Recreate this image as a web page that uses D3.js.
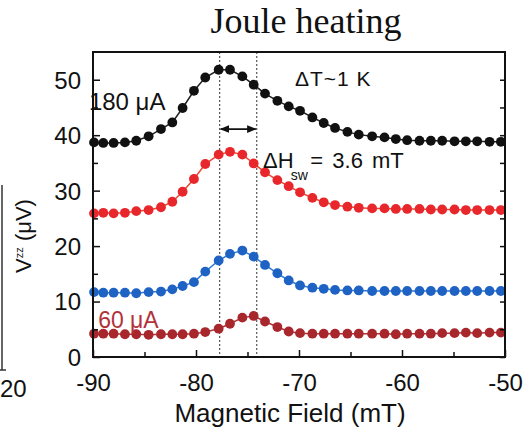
<!DOCTYPE html>
<html>
<head>
<meta charset="utf-8">
<script src="https://cdn.jsdelivr.net/npm/d3@7"></script>
<style>
  html, body { margin: 0; padding: 0; background: #fff; }
  svg { display: block; font-family: "Liberation Sans", Arial, sans-serif; }
  .tick text { font-family: "Liberation Sans", Arial, sans-serif; font-size: 24px; fill: #111; }
  .tick line { stroke: #111; stroke-width: 1.5; }
  .domain { display: none; }
</style>
</head>
<body>
<svg id="chart" width="532" height="435"></svg>
<script>
// Joule heating: V^zz vs magnetic field for several currents
const fieldMT = [-89.9, -89.0, -88.0, -86.9, -85.8, -84.6, -83.4, -82.3, -81.3, -80.2,
    -79.1, -77.8, -76.7, -75.5, -74.4, -73.3, -72.1, -71.0, -69.9, -68.7,
    -67.6, -66.5, -65.3, -64.2, -62.9, -61.7, -60.6, -59.5, -58.3, -57.2,
    -56.1, -54.9, -53.8, -52.7, -51.5, -50.4];

const v180uA = [38.7, 38.6, 38.6, 38.7, 39.0, 39.8, 41.1, 42.3, 44.9, 48.0,
    50.4, 51.8, 51.8, 50.6, 49.1, 47.5, 46.2, 45.2, 44.4, 43.2,
    42.2, 41.3, 40.6, 40.1, 39.8, 39.6, 39.3, 39.1, 39.0, 39.0,
    39.0, 38.9, 38.9, 38.9, 38.8, 38.8];

const v140uA = [25.9, 26.0, 25.9, 26.0, 26.3, 26.5, 27.0, 28.0, 29.8, 32.1,
    34.8, 36.5, 37.0, 36.5, 34.9, 33.3, 31.9, 30.8, 29.7, 28.7,
    27.9, 27.4, 27.1, 26.9, 26.8, 26.8, 26.7, 26.7, 26.7, 26.6,
    26.6, 26.6, 26.5, 26.5, 26.5, 26.5];

const v100uA = [11.7, 11.6, 11.6, 11.6, 11.5, 11.7, 11.8, 12.2, 12.8, 13.5,
    15.4, 17.4, 18.6, 19.2, 18.1, 16.6, 15.1, 13.8, 12.9, 12.5,
    12.3, 12.1, 12.0, 12.0, 11.9, 11.9, 11.9, 11.9, 11.9, 11.9,
    11.9, 11.9, 11.9, 11.9, 11.9, 11.9];

const v60uA = [4.2, 4.2, 4.2, 4.1, 4.1, 4.0, 4.1, 4.1, 4.1, 4.2,
    4.5, 5.1, 6.0, 7.1, 7.4, 6.4, 5.4, 4.6, 4.3, 4.2,
    4.2, 4.2, 4.2, 4.2, 4.2, 4.2, 4.1, 4.2, 4.2, 4.2,
    4.3, 4.3, 4.4, 4.3, 4.4, 4.4];

const seriesColors = ["#111111", "#e8272c", "#1e62c4", "#a8272c"];
const lineColors = ["#222222", "#f0452f", "#2f7ad6", "#b0333a"];

const xTicks = [-90, -80, -70, -60, -50];
const xMinor = [-85, -75, -65, -55];
const yTicks = [0, 10, 20, 30, 40, 50];
const yAll = [0, 5, 10, 15, 20, 25, 30, 35, 40, 45, 50];
const switchFields = [-77.7, -74.1];

(function () {
    const svg = d3.select("#chart");

    const x = d3.scaleLinear().domain([-90, -50]).range([93, 505]);
    const y = d3.scaleLinear().domain([0, 55]).range([357, 52]);

    const series = [v180uA, v140uA, v100uA, v60uA].map((vals, i) => ({
        points: fieldMT.map((f, j) => ({ f: f, v: vals[j] })),
        color: seriesColors[i],
        lineColor: lineColors[i]
    }));

    // leftover edge of the neighbouring panel
    svg.append("line")
        .attr("x1", 2).attr("x2", 2).attr("y1", 185).attr("y2", 370)
        .attr("stroke", "#333").attr("stroke-width", 1.5);
    svg.append("line")
        .attr("x1", 0).attr("x2", 6).attr("y1", 370).attr("y2", 370)
        .attr("stroke", "#333").attr("stroke-width", 1.5);
    svg.append("text")
        .attr("x", 0).attr("y", 397)
        .style("font-size", "24px").style("fill", "#111")
        .text("20");

    // title
    svg.append("text")
        .attr("x", 306).attr("y", 33)
        .attr("text-anchor", "middle")
        .style("font-family", "'Liberation Serif', 'Times New Roman', serif")
        .style("font-size", "36px")
        .style("fill", "#111")
        .text("Joule heating");

    // switching field markers
    svg.selectAll(".sw-line")
        .data(switchFields)
        .join("line")
        .attr("class", "sw-line")
        .attr("x1", d => x(d)).attr("x2", d => x(d))
        .attr("y1", y(55)).attr("y2", y(0))
        .attr("stroke", "#333")
        .attr("stroke-width", 1)
        .attr("stroke-dasharray", "2,2");

    // data
    const line = d3.line().x(d => x(d.f)).y(d => y(d.v));
    const plot = svg.append("g").attr("class", "series");

    series.forEach(s => {
        plot.append("path")
            .datum(s.points)
            .attr("fill", "none")
            .attr("stroke", s.lineColor)
            .attr("stroke-width", 1.5)
            .attr("d", line);
        plot.selectAll(null)
            .data(s.points)
            .join("circle")
            .attr("cx", d => x(d.f))
            .attr("cy", d => y(d.v))
            .attr("r", 4.9)
            .attr("fill", s.color);
    });

    // axes (ticks point inward)
    const xAxis = svg.append("g")
        .attr("transform", `translate(0,${y(0)})`)
        .call(d3.axisBottom(x).tickValues(xTicks).tickSize(-7).tickPadding(17)
            .tickFormat(d => d.toString()));
    xAxis.selectAll(".tick text").attr("dy", "0.71em");

    svg.append("g")
        .attr("transform", `translate(0,${y(0)})`)
        .call(d3.axisBottom(x).tickValues(xMinor).tickSize(-5).tickFormat(""));

    const yAxis = svg.append("g")
        .attr("transform", `translate(${x(-90)},0)`)
        .call(d3.axisLeft(y).tickValues(yTicks).tickSize(-7).tickPadding(12));
    yAxis.selectAll(".tick text").attr("dy", "0.35em");

    svg.append("g")
        .attr("transform", `translate(${x(-90)},0)`)
        .call(d3.axisLeft(y).tickValues(yAll.filter(v => v % 10 !== 0)).tickSize(-5).tickFormat(""));

    svg.append("g")
        .attr("transform", `translate(${x(-50)},0)`)
        .call(d3.axisRight(y).tickValues(yAll).tickSize(-5).tickFormat(""));

    // frame
    svg.append("rect")
        .attr("x", x(-90)).attr("y", y(55))
        .attr("width", x(-50) - x(-90))
        .attr("height", y(0) - y(55))
        .attr("fill", "none")
        .attr("stroke", "#111")
        .attr("stroke-width", 2);

    // axis titles
    svg.append("text")
        .attr("x", 290).attr("y", 422)
        .attr("text-anchor", "middle")
        .style("font-size", "26px").style("fill", "#111")
        .text("Magnetic Field (mT)");

    const yl = svg.append("text")
        .attr("transform", "translate(31,236) rotate(-90)")
        .attr("text-anchor", "middle")
        .style("font-size", "22px").style("fill", "#111");
    yl.append("tspan").text("V");
    yl.append("tspan").attr("dy", -8).style("font-size", "11px").text("zz");
    yl.append("tspan").attr("dy", 8).text(" (\u03bcV)");

    // annotations
    svg.append("text")
        .attr("x", x(-90.4)).attr("y", y(44.5))
        .style("font-size", "24px").style("fill", "#111")
        .text("180 \u03bcA");

    svg.append("text")
        .attr("x", x(-89.5)).attr("y", y(5.2))
        .style("font-size", "23px").style("fill", "#b3323a")
        .text("60 \u03bcA");

    svg.append("text")
        .attr("x", x(-70.4)).attr("y", y(48.9))
        .style("font-size", "21px").style("letter-spacing", "1px").style("fill", "#111")
        .text("\u0394T~1 K");

    svg.append("text")
        .attr("x", x(-73.5)).attr("y", y(34.1))
        .style("font-size", "22px").style("fill", "#111")
        .text("\u0394H");
    svg.append("text")
        .attr("x", x(-70.8)).attr("y", y(31.9))
        .style("font-size", "14px").style("fill", "#111")
        .text("sw");
    svg.append("text")
        .attr("x", x(-68.9)).attr("y", y(34.1))
        .style("font-size", "22px").style("word-spacing", "3px").style("fill", "#111")
        .text("= 3.6 mT");

    // double arrow between switching fields
    const defs = svg.append("defs");
    defs.append("marker")
        .attr("id", "arrow")
        .attr("viewBox", "0 0 10 10")
        .attr("refX", 9).attr("refY", 5)
        .attr("markerWidth", 6).attr("markerHeight", 6)
        .attr("orient", "auto-start-reverse")
        .append("path")
        .attr("d", "M0,1 L10,5 L0,9 Z")
        .attr("fill", "#111");

    svg.append("line")
        .attr("x1", x(switchFields[0]) + 1).attr("x2", x(switchFields[1]) - 1)
        .attr("y1", y(41.1)).attr("y2", y(41.1))
        .attr("stroke", "#111").attr("stroke-width", 1.6)
        .attr("marker-start", "url(#arrow)")
        .attr("marker-end", "url(#arrow)");
})();
</script>
</body>
</html>
